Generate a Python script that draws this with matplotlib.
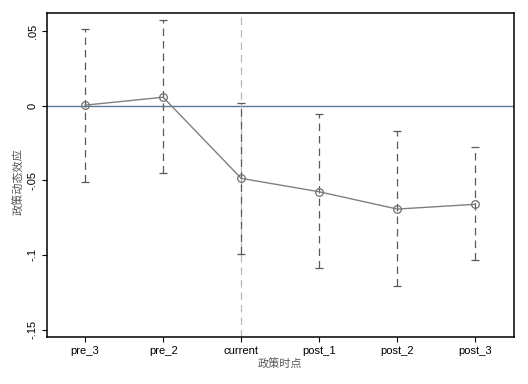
import numpy as np
import matplotlib
matplotlib.use("Agg")
import matplotlib.pyplot as plt

periods = ["pre_3", "pre_2", "current", "post_1", "post_2", "post_3"]
coef = [0.0005, 0.0058, -0.0486, -0.0576, -0.0692, -0.0660]
ci_low = [-0.0509, -0.0452, -0.0995, -0.1090, -0.1208, -0.1035]
ci_high = [0.0515, 0.0573, 0.0022, -0.0054, -0.0170, -0.0278]

plt.rcParams["font.family"] = ["Liberation Sans", "DejaVu Sans"]
cjk = ["Noto Sans CJK SC", "DejaVu Sans"]

fig = plt.figure(figsize=(5.28, 3.84), dpi=100)
ax = fig.add_axes([46.5 / 528, 1 - 337 / 384, (514 - 46.5) / 528, (337 - 13) / 384])

x = np.arange(1, len(periods) + 1)

ax.axhline(0, color="#5b7a92", lw=1.0, zorder=1)
ax.axvline(3, color="#b8b8b8", lw=0.9, ls=(0, (6, 4)), zorder=1)

# confidence intervals: dashed vertical lines with caps
ax.vlines(x, ci_low, ci_high, colors="#5a5a5a", lw=0.9, linestyles=(0, (6, 4)), zorder=2)
ax.plot(x, ci_low, ls="none", marker="_", ms=5.5, mew=0.9, color="#5a5a5a", zorder=2)
ax.plot(x, ci_high, ls="none", marker="_", ms=5.5, mew=0.9, color="#5a5a5a", zorder=2)

ax.plot(x, coef, color="#808080", lw=1.0, marker="o", ms=5.5, mfc="none",
        mec="#707070", mew=0.9, zorder=3)

ax.set_xlim(0.505, 6.496)
ax.set_ylim(-0.155, 0.0623)
ax.set_xticks(x)
ax.set_xticklabels(periods, fontsize=8)
yt = [-0.15, -0.1, -0.05, 0, 0.05]
ax.set_yticks(yt)
ax.set_yticklabels(["-.15", "-.1", "-.05", "0", ".05"], fontsize=8,
                   rotation=90, va="center")
ax.tick_params(length=3.8, width=0.8, color="black", pad=2.5)

for s in ax.spines.values():
    s.set_linewidth(1.1)
    s.set_color("black")

ax.set_xlabel("政策时点", family=cjk, fontsize=8, color="#555555", labelpad=2)
ax.set_ylabel("政策动态效应", family=cjk, fontsize=8, color="#555555")
ax.yaxis.set_label_coords(-0.047, 0.48)

fig.savefig("out.png", dpi=100, facecolor="white")
